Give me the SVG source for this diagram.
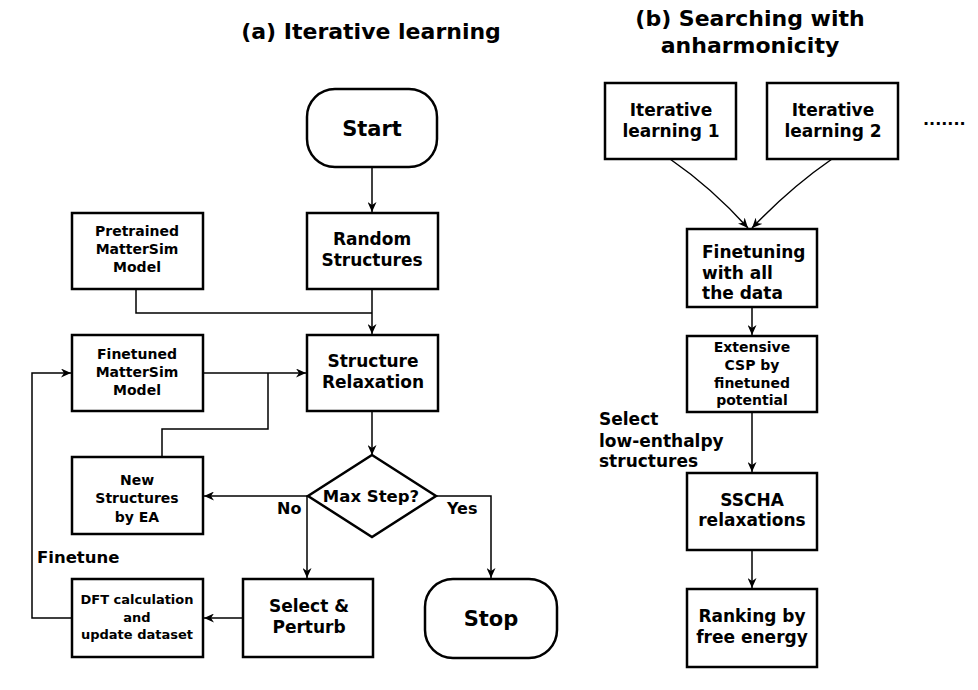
<svg xmlns="http://www.w3.org/2000/svg" width="978" height="690" viewBox="0 0 978 690">
<style>
.box{fill:#fff;stroke:#000;stroke-width:2.5}
.t{font-family:"DejaVu Sans",sans-serif;font-weight:bold;fill:#000;text-anchor:middle}
.l{font-family:"DejaVu Sans",sans-serif;font-weight:bold;fill:#000}
.c{fill:none;stroke:#000;stroke-width:1.5}
</style>
<defs>
<marker id="ah" markerUnits="userSpaceOnUse" markerWidth="11" markerHeight="9" refX="10" refY="4.5" orient="auto">
<path d="M0,0 L10,4.5 L0,9 L3,4.5 z" fill="#000"/>
</marker>
</defs>
<rect width="978" height="690" fill="#fff"/>
<text class="t" x="371" y="39" font-size="22">(a) Iterative learning</text>
<text class="t" x="750" y="26" font-size="22">(b) Searching with</text>
<text class="t" x="750" y="53" font-size="22">anharmonicity</text>

<g id="connectors">
<line class="c" x1="372" y1="167" x2="372" y2="212" marker-end="url(#ah)"/>
<polyline class="c" points="136,289 136,313 372,313"/>
<line class="c" x1="372" y1="289" x2="372" y2="334" marker-end="url(#ah)"/>
<line class="c" x1="203" y1="373" x2="306" y2="373" marker-end="url(#ah)"/>
<polyline class="c" points="162,457 162,429 268,429 268,373"/>
<line class="c" x1="372" y1="411" x2="372" y2="455" marker-end="url(#ah)"/>
<line class="c" x1="308" y1="496" x2="204" y2="496" marker-end="url(#ah)"/>
<line class="c" x1="307" y1="496" x2="307" y2="578" marker-end="url(#ah)"/>
<polyline class="c" points="436,496 491,496 491,578" marker-end="url(#ah)"/>
<line class="c" x1="243" y1="618" x2="204" y2="618" marker-end="url(#ah)"/>
<polyline class="c" points="72,618 32,618 32,373 71,373" marker-end="url(#ah)"/>
<path class="c" d="M670,159 Q712,188 748,228" marker-end="url(#ah)"/>
<path class="c" d="M832,159 Q790,188 752,228" marker-end="url(#ah)"/>
<line class="c" x1="752" y1="307" x2="752" y2="335" marker-end="url(#ah)"/>
<line class="c" x1="752" y1="412" x2="752" y2="472" marker-end="url(#ah)"/>
<line class="c" x1="752" y1="550" x2="752" y2="588" marker-end="url(#ah)"/>
</g>

<g id="start">
<rect class="box" x="307" y="89" width="130" height="78" rx="28"/>
<text class="t" x="372" y="136" font-size="21">Start</text>
</g>
<g id="pretrained">
<rect class="box" x="72" y="213" width="131" height="76"/>
<text class="t" x="137" y="236" font-size="14">Pretrained</text>
<text class="t" x="137" y="254" font-size="14">MatterSim</text>
<text class="t" x="137" y="272" font-size="14">Model</text>
</g>
<g id="random">
<rect class="box" x="307" y="213" width="131" height="76"/>
<text class="t" x="372" y="245" font-size="17">Random</text>
<text class="t" x="372" y="266" font-size="17">Structures</text>
</g>
<g id="finetuned">
<rect class="box" x="72" y="335" width="131" height="76"/>
<text class="t" x="137" y="359" font-size="14">Finetuned</text>
<text class="t" x="137" y="377" font-size="14">MatterSim</text>
<text class="t" x="137" y="395" font-size="14">Model</text>
</g>
<g id="relax">
<rect class="box" x="307" y="335" width="131" height="76"/>
<text class="t" x="373" y="367" font-size="17">Structure</text>
<text class="t" x="373" y="388" font-size="17">Relaxation</text>
</g>
<g id="newstruct">
<rect class="box" x="72" y="457" width="131" height="77"/>
<text class="t" x="137" y="485" font-size="14">New</text>
<text class="t" x="137" y="503" font-size="14">Structures</text>
<text class="t" x="137" y="522" font-size="14">by EA</text>
</g>
<g id="maxstep">
<polygon class="box" points="372,455 436,496 372,537 308,496"/>
<text class="t" x="371" y="502" font-size="16.5">Max Step?</text>
</g>
<text class="l" x="277" y="514" font-size="16">No</text>
<text class="l" x="447" y="514" font-size="16">Yes</text>
<text class="l" x="37" y="563" font-size="16.5">Finetune</text>
<g id="dft">
<rect class="box" x="72" y="579" width="131" height="78"/>
<text class="t" x="137" y="604" font-size="13">DFT calculation</text>
<text class="t" x="137" y="622" font-size="13">and</text>
<text class="t" x="137" y="639" font-size="13">update dataset</text>
</g>
<g id="select">
<rect class="box" x="243" y="579" width="130" height="78"/>
<text class="t" x="309" y="612" font-size="17">Select &amp;</text>
<text class="t" x="309" y="633" font-size="17">Perturb</text>
</g>
<g id="stop">
<rect class="box" x="425" y="579" width="132" height="79" rx="28"/>
<text class="t" x="491" y="626" font-size="21">Stop</text>
</g>

<g id="il1">
<rect class="box" x="605" y="83" width="131" height="76"/>
<text class="t" x="671" y="116" font-size="17">Iterative</text>
<text class="t" x="671" y="137" font-size="17">learning 1</text>
</g>
<g id="il2">
<rect class="box" x="767" y="83" width="131" height="76"/>
<text class="t" x="833" y="116" font-size="17">Iterative</text>
<text class="t" x="833" y="137" font-size="17">learning 2</text>
</g>
<text class="l" x="923" y="125" font-size="16">.......</text>
<g id="finetuning">
<rect class="box" x="687" y="229" width="130" height="78"/>
<text class="l" x="702" y="258" font-size="17">Finetuning</text>
<text class="l" x="702" y="278.5" font-size="17">with all</text>
<text class="l" x="702" y="299" font-size="17">the data</text>
</g>
<g id="extensive">
<rect class="box" x="687" y="336" width="130" height="76"/>
<text class="t" x="752" y="352" font-size="14">Extensive</text>
<text class="t" x="752" y="370" font-size="14">CSP by </text>
<text class="t" x="752" y="388" font-size="14">finetuned</text>
<text class="t" x="752" y="405" font-size="14">potential</text>
</g>
<text class="l" x="599" y="425" font-size="17">Select</text>
<text class="l" x="599" y="447" font-size="17">low-enthalpy</text>
<text class="l" x="599" y="467" font-size="17">structures</text>
<g id="sscha">
<rect class="box" x="687" y="473" width="130" height="77"/>
<text class="t" x="752" y="506" font-size="17">SSCHA</text>
<text class="t" x="752" y="526" font-size="17">relaxations</text>
</g>
<g id="ranking">
<rect class="box" x="687" y="589" width="130" height="78"/>
<text class="t" x="752" y="622" font-size="17">Ranking by</text>
<text class="t" x="752" y="643" font-size="17">free energy</text>
</g>
</svg>
